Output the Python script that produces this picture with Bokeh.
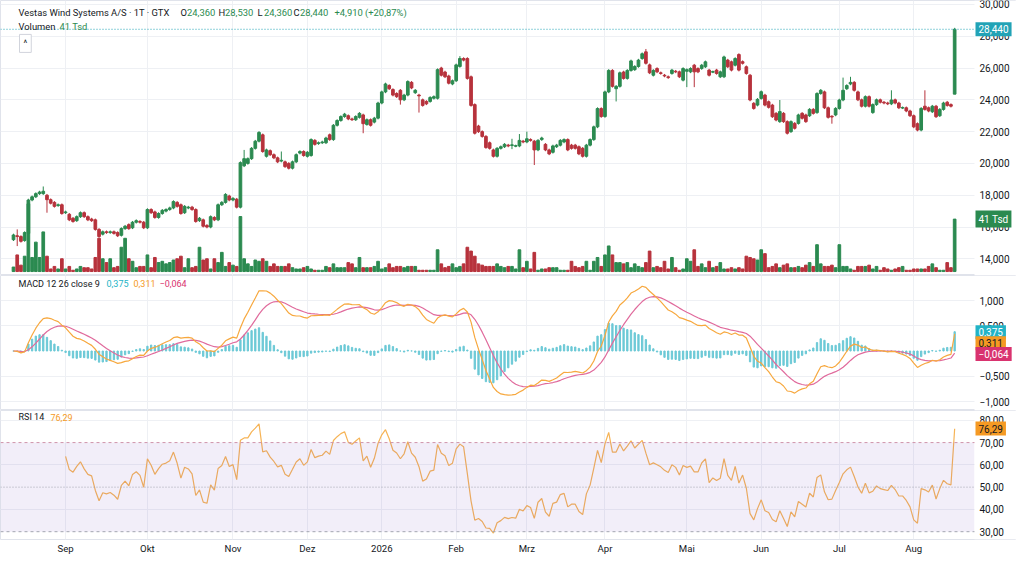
import math
from bokeh.plotting import figure
from bokeh.layouts import column
from bokeh.models import Range1d, FixedTicker, Span, Label, BoxAnnotation, ColumnDataSource
from bokeh.embed import file_html
from bokeh.resources import INLINE

# ---------------- data ----------------
opens = [15.20,15.45,15.40,15.15,15.60,17.70,17.90,18.10,18.10,18.00,
         17.72,17.55,17.35,17.40,16.90,16.80,16.55,16.40,16.65,16.90,
         16.65,16.50,16.45,15.85,15.55,15.70,15.65,15.70,15.65,15.48,
         15.90,16.15,15.95,16.30,16.35,16.30,15.95,17.10,16.95,16.60,
         16.85,17.00,17.10,17.20,17.55,17.40,16.90,17.20,17.25,17.10,
         16.40,16.45,16.10,16.00,16.60,16.45,17.40,17.55,17.95,17.70,
         17.75,17.25,19.85,20.00,20.30,20.95,21.40,21.80,20.45,20.80,
         20.55,20.35,20.15,20.10,20.00,19.70,20.10,20.65,20.75,20.45,
         20.50,21.45,21.25,21.30,21.30,21.80,21.50,22.40,22.70,22.95,
         23.00,22.80,22.75,22.90,23.05,22.45,22.75,22.60,22.85,23.80,
         24.50,24.90,24.65,24.40,24.60,24.00,24.30,25.10,24.45,24.30,
         24.00,23.90,23.90,24.10,24.10,26.00,25.75,25.50,25.00,25.20,
         26.10,26.60,26.60,25.45,23.70,22.35,22.00,21.70,21.30,20.85,
         20.45,20.95,21.05,21.15,21.15,21.10,21.10,21.40,21.35,21.50,
         21.40,20.85,21.50,21.20,20.85,20.70,21.05,21.15,21.35,21.50,
         21.15,21.15,21.05,20.95,20.45,21.15,21.50,22.30,23.45,22.95,
         24.50,25.85,24.70,24.85,25.75,25.35,25.85,25.90,26.10,26.60,
         27.02,26.20,25.55,25.97,25.70,25.55,25.45,25.66,25.80,25.76,
         25.24,25.80,25.76,26.18,25.97,25.97,26.08,25.87,25.76,25.87,
         25.45,25.45,26.50,26.39,26.18,26.85,26.40,26.08,25.55,23.78,
         23.67,24.09,24.30,23.88,23.67,23.15,22.63,23.15,22.63,22.00,
         22.52,22.52,23.15,23.05,23.00,23.40,23.20,24.40,24.50,23.50,
         22.95,23.05,23.46,23.99,24.70,25.00,25.10,24.50,24.00,23.60,
         24.20,23.20,23.70,24.00,23.85,23.80,23.75,24.00,23.80,23.50,
         23.50,23.30,23.00,22.50,22.10,23.60,23.50,23.25,23.60,23.00,
         23.40,23.85,23.70,24.36]

closes = [15.50,15.40,15.10,15.65,17.70,17.90,18.10,18.20,18.25,17.72,
          17.50,17.30,17.40,16.85,16.95,16.45,16.35,16.65,16.90,16.65,
          16.45,16.40,15.85,15.40,15.70,15.65,15.70,15.60,15.45,15.90,
          16.05,15.90,16.30,16.40,16.30,15.95,17.10,16.90,16.60,16.85,
          17.05,17.10,17.20,17.60,17.30,16.85,17.30,17.25,17.10,16.35,
          16.55,16.05,16.00,16.65,16.45,17.40,17.55,18.05,17.70,17.80,
          17.25,20.05,20.30,20.30,20.95,21.40,21.95,20.75,20.85,20.55,
          20.35,20.10,20.20,19.80,19.70,20.10,20.55,20.75,20.50,20.70,
          21.50,21.20,21.30,21.35,21.60,21.50,22.40,22.70,22.95,23.10,
          22.80,22.75,22.95,23.15,22.50,22.75,22.40,22.85,23.80,24.50,
          25.00,24.70,24.30,24.20,24.00,24.30,25.15,24.75,24.60,24.25,
          23.65,23.75,24.15,24.20,25.90,25.55,25.45,25.05,25.20,26.20,
          26.60,26.50,25.35,23.65,21.90,22.00,21.70,21.00,20.95,20.45,
          20.95,21.05,21.20,21.10,21.15,21.10,21.45,21.35,21.55,21.45,
          20.85,21.45,21.60,20.85,20.60,21.10,21.15,21.45,21.50,20.85,
          20.95,20.95,20.60,20.45,21.15,21.50,22.30,23.45,22.95,24.50,
          25.85,24.85,24.85,25.70,25.35,25.85,26.45,26.10,26.50,26.90,
          26.30,25.70,25.85,25.76,25.66,25.50,25.40,25.87,25.76,25.45,
          25.97,25.90,25.97,25.76,25.76,26.18,26.39,25.55,25.76,25.66,
          25.76,26.70,26.08,25.87,26.60,25.87,26.30,25.66,23.99,23.46,
          24.03,24.51,23.67,23.53,22.94,22.73,23.26,22.63,21.90,22.63,
          22.21,23.05,22.84,22.63,23.40,23.15,24.40,24.60,23.50,22.90,
          22.94,23.46,23.99,24.60,24.90,25.10,24.60,24.00,23.60,24.20,
          23.60,23.70,24.00,23.85,23.80,23.75,23.99,23.80,23.50,23.50,
          23.30,23.00,22.30,22.10,23.46,23.40,23.30,23.60,22.94,23.40,
          23.80,23.65,23.60,28.44]

# long wicks that stand out in the picture (index: value)
wick_high = {1: 15.85, 8: 18.55, 62: 20.85, 72: 20.75, 120: 26.75, 134: 21.55,
             136: 21.85, 138: 22.0, 170: 27.2, 206: 23.99, 223: 25.4, 225: 25.45,
             236: 24.6, 245: 24.6, 253: 28.53}
wick_low = {1: 14.8, 9: 16.9, 94: 21.9, 104: 23.7, 109: 23.2, 134: 20.9, 140: 19.9,
            162: 23.9, 181: 24.8, 183: 24.8, 220: 22.5, 253: 24.36}

volume_k = [3.5,13,5,12,53,11,23,11,31,12,
            2,4,2,10,2,4,1,2,4,3,
            3,2,11,26,10,7,10,3,4,19,
            26,10,8,3,4,4,13,3,11,7,
            8,6,7,9,10,12,3,10,3,4,
            19,9,10,2,10,7,15,4,7,5,
            4,43,10,6,4,9,8,10,8,4,
            6,4,4,4,6,3,2,2,3,4,
            2,1,1,1,4,3,6,3,3,3,
            7,6,3,11,3,3,3,4,8,2,
            3,6,3,4,4,3,4,4,4,1,
            1,1,1,1,17,6,3,4,6,3,
            4,6,19,16,12,6,5,4,4,4,
            6,4,3,4,4,2,17,3,8,2,
            15,1,2,2,3,3,3,1,1,1,
            8,4,3,4,8,1,8,11,4,13,
            20,13,7,7,6,7,3,6,4,3,
            7,16,3,4,3,8,2,11,3,1,
            2,10,8,17,4,6,3,8,3,4,
            7,2,2,3,2,3,2,12,11,10,
            9,17,14,3,4,6,3,5,6,3,
            3,4,3,5,7,4,21,6,4,4,
            5,3,21,4,4,2,1,4,4,4,
            5,2,4,1,3,2,1,2,3,4,
            1,1,2,2,2,2,4,6,3,1,
            1,7,3,41]

month_idx = [14, 36, 59, 79, 99, 119, 138, 159, 181, 201, 222, 242]
month_lbl = ["Sep", "Okt", "Nov", "Dez", "2026", "Feb", "Mrz", "Apr", "Mai", "Jun", "Jul", "Aug"]
price_ticks = [14, 16, 18, 20, 22, 24, 26, 28, 30]
macd_ticks = [-1.0, -0.5, 0.5, 1.0]
rsi_ticks = [30, 40, 50, 60, 70, 80]

title_text = "Vestas Wind Systems A/S · 1T · GTX"
ohlc_parts = [("O", "24,360"), ("H", "28,530"), ("L", "24,360"), ("C", "28,440")]
change_text = "+4,910 (+20,87%)"
macd_vals_txt = ["0,375", "0,311", "−0,064"]
rsi_val_txt = "76,29"
last_price_txt = "28,440"
last_vol_txt = "41 Tsd"

assert len(opens) == len(closes) == len(volume_k), (len(opens), len(closes), len(volume_k))
N = len(closes)

# ---------------- indicators (from the closes) ----------------
def ema(vals, n):
    a = 2.0 / (n + 1)
    out = [vals[0]]
    for v in vals[1:]:
        out.append(a * v + (1 - a) * out[-1])
    return out

ema12 = ema(closes, 12)
ema26 = ema(closes, 26)
macd = [a - b for a, b in zip(ema12, ema26)]
signal = ema(macd, 9)
hist = [m - s for m, s in zip(macd, signal)]

def rsi(vals, n=14):
    out = [float("nan")] * len(vals)
    g, l = [], []
    ag = al = None
    for i in range(1, len(vals)):
        ch = vals[i] - vals[i - 1]
        gi, li = max(ch, 0.0), max(-ch, 0.0)
        if i <= n:
            g.append(gi); l.append(li)
            if i == n:
                ag, al = sum(g) / n, sum(l) / n
        else:
            ag = (ag * (n - 1) + gi) / n
            al = (al * (n - 1) + li) / n
        if ag is not None:
            out[i] = 100.0 if al == 0 else 100 - 100 / (1 + ag / al)
    return out

rsi14 = rsi(closes)

# ---------------- styling ----------------
UP = "#2b8a50"
DOWN = "#b7323c"
GRID = "#eef0f4"
TXT = "#131722"
FONT = "Roboto"
AX_FS = "10px"
W = 1016

xs = list(range(N))
hi = [wick_high.get(i, max(o, c) + 0.08) for i, (o, c) in enumerate(zip(opens, closes))]
lo = [wick_low.get(i, min(o, c) - 0.08) for i, (o, c) in enumerate(zip(opens, closes))]
col = [UP if c >= o else DOWN for o, c in zip(opens, closes)]
btop = [max(o, c) if abs(o - c) > 0.03 else max(o, c) + 0.02 for o, c in zip(opens, closes)]
bbot = [min(o, c) if abs(o - c) > 0.03 else min(o, c) - 0.02 for o, c in zip(opens, closes)]

src = ColumnDataSource(dict(x=xs, o=opens, c=closes, hi=hi, lo=lo, col=col,
                            btop=btop, bbot=bbot, vol=volume_k))


def rx(xpix):
    # reference pixel column -> bar index
    return (xpix - 13) / 3.72


xr = Range1d(rx(0), rx(W))
AXIS_X = rx(974)


def fmt(t, d):
    s = f"{abs(t):.{d}f}".replace(".", ",")
    return ("−" + s) if t < 0 else s


def make_fig(h, yr, grid_ticks, bottom=0):
    p = figure(width=W, height=h, x_range=xr, y_range=yr, output_backend="svg",
               toolbar_location=None, y_axis_location="right",
               min_border_left=0, min_border_right=0, min_border_top=0,
               min_border_bottom=bottom, background_fill_color="white",
               border_fill_color="white", outline_line_color="#e0e3eb")
    p.yaxis.visible = False
    p.xgrid.ticker = FixedTicker(ticks=month_idx)
    p.ygrid.ticker = FixedTicker(ticks=grid_ticks)
    p.xgrid.grid_line_color = GRID
    p.ygrid.grid_line_color = GRID
    return p


def axis_zone(p, yr):
    p.add_layout(BoxAnnotation(left=AXIS_X, right=xr.end, bottom=yr.start, top=yr.end,
                               fill_color="white", fill_alpha=1.0, line_alpha=0))


def axis_labels(p, ticks, dec):
    for t in ticks:
        p.add_layout(Label(x=rx(979), y=t, text=fmt(t, dec), text_color=TXT, text_font=FONT,
                           text_font_size=AX_FS, text_baseline="middle", text_align="left"))


def txt(p, xpix, y, s, color, size="9.4px"):
    p.add_layout(Label(x=rx(xpix), y=y, text=s, text_color=color, text_font=FONT,
                       text_font_size=size, text_baseline="middle", text_align="left"))


def badge(p, y, s, bg, fg="white", **kw):
    p.add_layout(Label(x=rx(975), y=y, text=s, text_color=fg, text_font=FONT,
                       text_font_size=AX_FS, text_baseline="middle", text_align="left",
                       background_fill_color=bg, background_fill_alpha=1.0,
                       padding=3, **kw))


# ---------------- price pane (reference rows 0-275) ----------------
yr_p = Range1d(12.95, 30.25)
pp = make_fig(275, yr_p, price_ticks)
pp.xaxis.visible = False
pp.extra_y_ranges = {"vol": Range1d(-3.1, 212)}
pp.vbar(x="x", top="vol", bottom=0, width=0.72, color="col", y_range_name="vol", source=src)
pp.segment(x0="x", y0="lo", x1="x", y1="hi", color="col", line_width=1, source=src)
pp.vbar(x="x", top="btop", bottom="bbot", width=0.72, color="col", source=src)
pp.add_layout(Span(location=closes[-1], dimension="width", line_color="#22a3b6",
                   line_dash="1 2", line_width=1))
axis_zone(pp, yr_p)
axis_labels(pp, price_ticks, 3)

txt(pp, 18, 29.50, title_text, TXT)
xpos = [180, 218, 257, 293]
for (lab, val), xp in zip(ohlc_parts, xpos):
    txt(pp, xp, 29.50, lab, TXT)
    txt(pp, xp + 6.5, 29.50, val, UP)
txt(pp, 334, 29.50, change_text, UP)
txt(pp, 18, 28.62, "Volumen", TXT)
txt(pp, 59, 28.62, last_vol_txt, UP)
pp.add_layout(Label(x=rx(19), y=27.55, text="^", text_color=TXT, text_font=FONT,
                    text_font_size="9px", text_baseline="middle", text_align="left",
                    background_fill_color="white", border_line_color="#d1d4dc", padding=4))
badge(pp, closes[-1], last_price_txt, "#22a3b6")
badge(pp, volume_k[-1], last_vol_txt, UP, y_range_name="vol")

# ---------------- MACD pane (reference rows 275-410) ----------------
yr_m = Range1d(-1.178, 1.495)
pm = make_fig(135, yr_m, macd_ticks)
pm.xaxis.visible = False
pm.vbar(x=xs, top=hist, bottom=0, width=0.35, color="#6cc9d6")
pm.line(xs, signal, line_color="#e06a9c", line_width=1.2)
pm.line(xs, macd, line_color="#f7a83e", line_width=1.2)
axis_zone(pm, yr_m)
axis_labels(pm, macd_ticks, 3)
txt(pm, 18, 1.33, "MACD 12 26 close 9", TXT, size="9px")
txt(pm, 106, 1.33, macd_vals_txt[0], "#22b3c6", size="9px")
txt(pm, 133, 1.33, macd_vals_txt[1], "#f59a23", size="9px")
txt(pm, 159, 1.33, macd_vals_txt[2], "#d9336f", size="9px")
badge(pm, 0.372, macd_vals_txt[0], "#22b3c6")
badge(pm, 0.154, macd_vals_txt[1], "#f59a23", fg=TXT)
badge(pm, -0.058, macd_vals_txt[2], "#d9336f")

# ---------------- RSI pane (reference rows 410-541, axis below) ----------------
yr_r = Range1d(26.5, 84.4)
pr = make_fig(146, yr_r, [40, 60, 80], bottom=15)
pr.xaxis.ticker = FixedTicker(ticks=month_idx)
pr.xaxis.major_label_overrides = dict(zip(month_idx, month_lbl))
pr.xaxis.axis_line_color = None
pr.xaxis.major_tick_line_color = None
pr.xaxis.minor_tick_line_color = None
pr.xaxis.major_label_text_font_size = "9.6px"
pr.xaxis.major_label_text_color = TXT
pr.xaxis.major_label_text_font = FONT
pr.xaxis.major_label_standoff = 3
pr.xaxis.major_tick_out = 0
pr.xaxis.major_tick_in = 0
pr.add_layout(BoxAnnotation(left=xr.start, right=AXIS_X, bottom=30, top=70,
                            fill_color="#7e57c2", fill_alpha=0.1, line_alpha=0))
pr.add_layout(Span(location=70, dimension="width", line_color="#cf93aa", line_dash="3 3", line_width=1))
pr.add_layout(Span(location=50, dimension="width", line_color="#a3a6af", line_dash="1 2", line_width=1))
pr.add_layout(Span(location=30, dimension="width", line_color="#a3a6af", line_dash="3 3", line_width=1))
pr.line(xs, rsi14, line_color="#f6b355", line_width=1.2)
axis_zone(pr, yr_r)
axis_labels(pr, rsi_ticks, 2)
txt(pr, 18, 81.3, "RSI 14", TXT, size="9px")
txt(pr, 50, 81.3, rsi_val_txt, "#f59a23", size="9px")
badge(pr, 76.29, rsi_val_txt, "#f59a23", fg=TXT)

layout = column(pp, pm, pr, spacing=0)
open("out.html", "w").write(file_html(layout, INLINE))
